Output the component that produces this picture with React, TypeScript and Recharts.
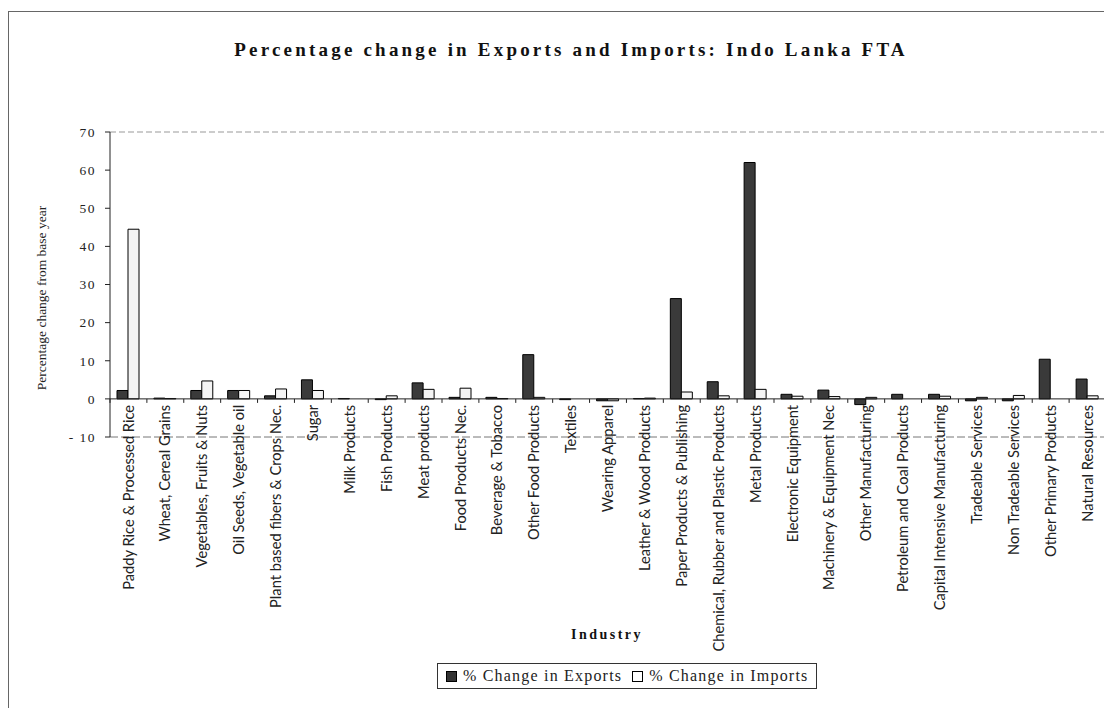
import React from 'react';
import { BarChart, Bar, XAxis, YAxis, ReferenceLine } from 'recharts';

const categories = [
  'Paddy Rice & Processed Rice', 'Wheat, Cereal Grains', 'Vegetables, Fruits & Nuts', 'Oil Seeds, Vegetable oil',
  'Plant based fibers & Crops Nec.', 'Sugar', 'Milk Products', 'Fish Products', 'Meat products', 'Food Products Nec.',
  'Beverage & Tobacco', 'Other Food Products', 'Textiles', 'Wearing Apparel', 'Leather & Wood Products',
  'Paper Products & Publishing', 'Chemical, Rubber and Plastic Products', 'Metal Products', 'Electronic Equipment',
  'Machinery & Equipment Nec', 'Other Manufacturing', 'Petroleum and Coal Products', 'Capital Intensive Manufacturing',
  'Tradeable Services', 'Non Tradeable Services', 'Other Primary Products', 'Natural Resources',
];
const exportsChange = [2.2, 0.2, 2.2, 2.2, 0.8, 5.0, 0.1, -0.2, 4.2, 0.4, 0.4, 11.6, -0.2, -0.5, 0.1, 26.3, 4.5, 62.0, 1.2, 2.3, -1.5, 1.2, 1.2, -0.5, -0.5, 10.4, 5.2];
const importsChange = [44.5, 0.1, 4.7, 2.2, 2.6, 2.2, 0.0, 0.8, 2.5, 2.8, 0.1, 0.4, 0.0, -0.5, 0.2, 1.8, 0.8, 2.5, 0.7, 0.6, 0.4, 0.0, 0.7, 0.4, 0.9, 0.0, 0.8];
const yTicks = [-10, 0, 10, 20, 30, 40, 50, 60, 70];
const legendLabels = ['% Change in Exports', '% Change in Imports'];

const data = categories.map((c, i) => ({ name: c, exp: exportsChange[i], imp: importsChange[i] }));

const W = 1104;
const H = 700;
const X_AXIS_H = 1;
const MARGIN = { top: 124, right: 6, left: 40, bottom: 270 };
const Y_AXIS_W = 62;
const Y_MIN = -10;
const Y_MAX = 70;
const PLOT_H = H - MARGIN.top - MARGIN.bottom - X_AXIS_H;
const PLOT_W = W - MARGIN.left - MARGIN.right - Y_AXIS_W;
const BAND = PLOT_W / categories.length;

const serif = '"Liberation Serif", "Times New Roman", serif';

const CatTick = (props: any) => {
  const { x, y, payload, index } = props;
  const zeroY = y - (PLOT_H * (0 - Y_MIN)) / (Y_MAX - Y_MIN);
  const left = x - BAND / 2;
  const right = x + BAND / 2;
  return (
    <g>
      <line x1={left} x2={left} y1={zeroY} y2={zeroY + 4} stroke="#222" strokeWidth={1} />
      {index === categories.length - 1 && (
        <line x1={right} x2={right} y1={zeroY} y2={zeroY + 4} stroke="#222" strokeWidth={1} />
      )}
      <text
        x={0}
        y={0}
        transform={`translate(${x},${zeroY + 6}) rotate(-90)`}
        textAnchor="end"
        dy="0.35em"
        fontFamily="Lato, sans-serif"
        fontSize={14.7}
        fill="#222"
      >
        {payload.value}
      </text>
    </g>
  );
};

const LegendBox = () => (
  <div
    style={{
      position: 'absolute',
      left: 429,
      top: 655,
      height: 26,
      boxSizing: 'border-box',
      display: 'inline-flex',
      alignItems: 'center',
      border: '1px solid #333',
      padding: '0 8px 0 8px',
      fontFamily: serif,
      fontSize: 16,
      letterSpacing: 1.2,
      color: '#222',
      background: '#fff',
      whiteSpace: 'nowrap',
    }}
  >
    <span style={{ display: 'inline-block', width: 9, height: 9, background: '#333', border: '1px solid #000', marginRight: 6 }} />
    <span style={{ marginRight: 10 }}>{legendLabels[0]}</span>
    <span style={{ display: 'inline-block', width: 9, height: 9, background: '#fff', border: '1px solid #000', marginRight: 6 }} />
    <span>{legendLabels[1]}</span>
  </div>
);

export default function App() {
  return (
    <div style={{ position: 'relative', width: W, height: H, background: '#fff' }}>
      <div
        style={{
          position: 'absolute',
          left: 0,
          top: 3,
          width: W,
          height: H,
          borderTop: '1.5px solid #666',
          borderLeft: '1.5px solid #666',
          boxSizing: 'border-box',
        }}
      />
      <div
        style={{
          position: 'absolute',
          left: 0,
          width: 1126,
          top: 31,
          textAlign: 'center',
          fontFamily: serif,
          fontWeight: 'bold',
          fontSize: 19,
          letterSpacing: 3.2,
          color: '#111',
        }}
      >
        Percentage change in Exports and Imports: Indo Lanka FTA
      </div>
      <div
        style={{
          position: 'absolute',
          left: 34,
          top: 290,
          transform: 'translate(-50%, -50%) rotate(-90deg)',
          whiteSpace: 'nowrap',
          fontFamily: serif,
          fontSize: 13.5,
          color: '#222',
        }}
      >
        Percentage change from base year
      </div>
      <div
        style={{
          position: 'absolute',
          left: 599,
          top: 627,
          transform: 'translate(-50%, -50%)',
          fontFamily: serif,
          fontWeight: 'bold',
          fontSize: 14,
          letterSpacing: 2.5,
          color: '#111',
        }}
      >
        Industry
      </div>
      <BarChart width={W} height={H} data={data} margin={MARGIN} barGap={0} barSize={11}>
        <ReferenceLine y={70} stroke="#999" strokeDasharray="6 3" />
        <ReferenceLine y={-10} stroke="#777" strokeDasharray="8 3" />
        <XAxis
          dataKey="name"
          interval={0}
          axisLine={false}
          tickLine={false}
          tickSize={0}
          tickMargin={0}
          height={X_AXIS_H}
          tick={<CatTick />}
        />
        <YAxis
          domain={[Y_MIN, Y_MAX]}
          ticks={yTicks}
          width={Y_AXIS_W}
          axisLine={{ stroke: '#222' }}
          tickLine={{ stroke: '#222' }}
          tickSize={5}
          tickMargin={9}
          tick={{ fontFamily: serif, fontSize: 13.5, fill: '#222', letterSpacing: 1.5 }}
          tickFormatter={(v: number) => (v < 0 ? `- ${Math.abs(v)}` : `${v}`)}
          interval={0}
        />
        <ReferenceLine y={0} stroke="#222" />
        <Bar dataKey="exp" name={legendLabels[0]} fill="#3a3a3a" stroke="#000" strokeWidth={1} isAnimationActive={false} />
        <Bar dataKey="imp" name={legendLabels[1]} fill="#f4f4f4" stroke="#000" strokeWidth={1} isAnimationActive={false} />
      </BarChart>
      <LegendBox />
    </div>
  );
}
